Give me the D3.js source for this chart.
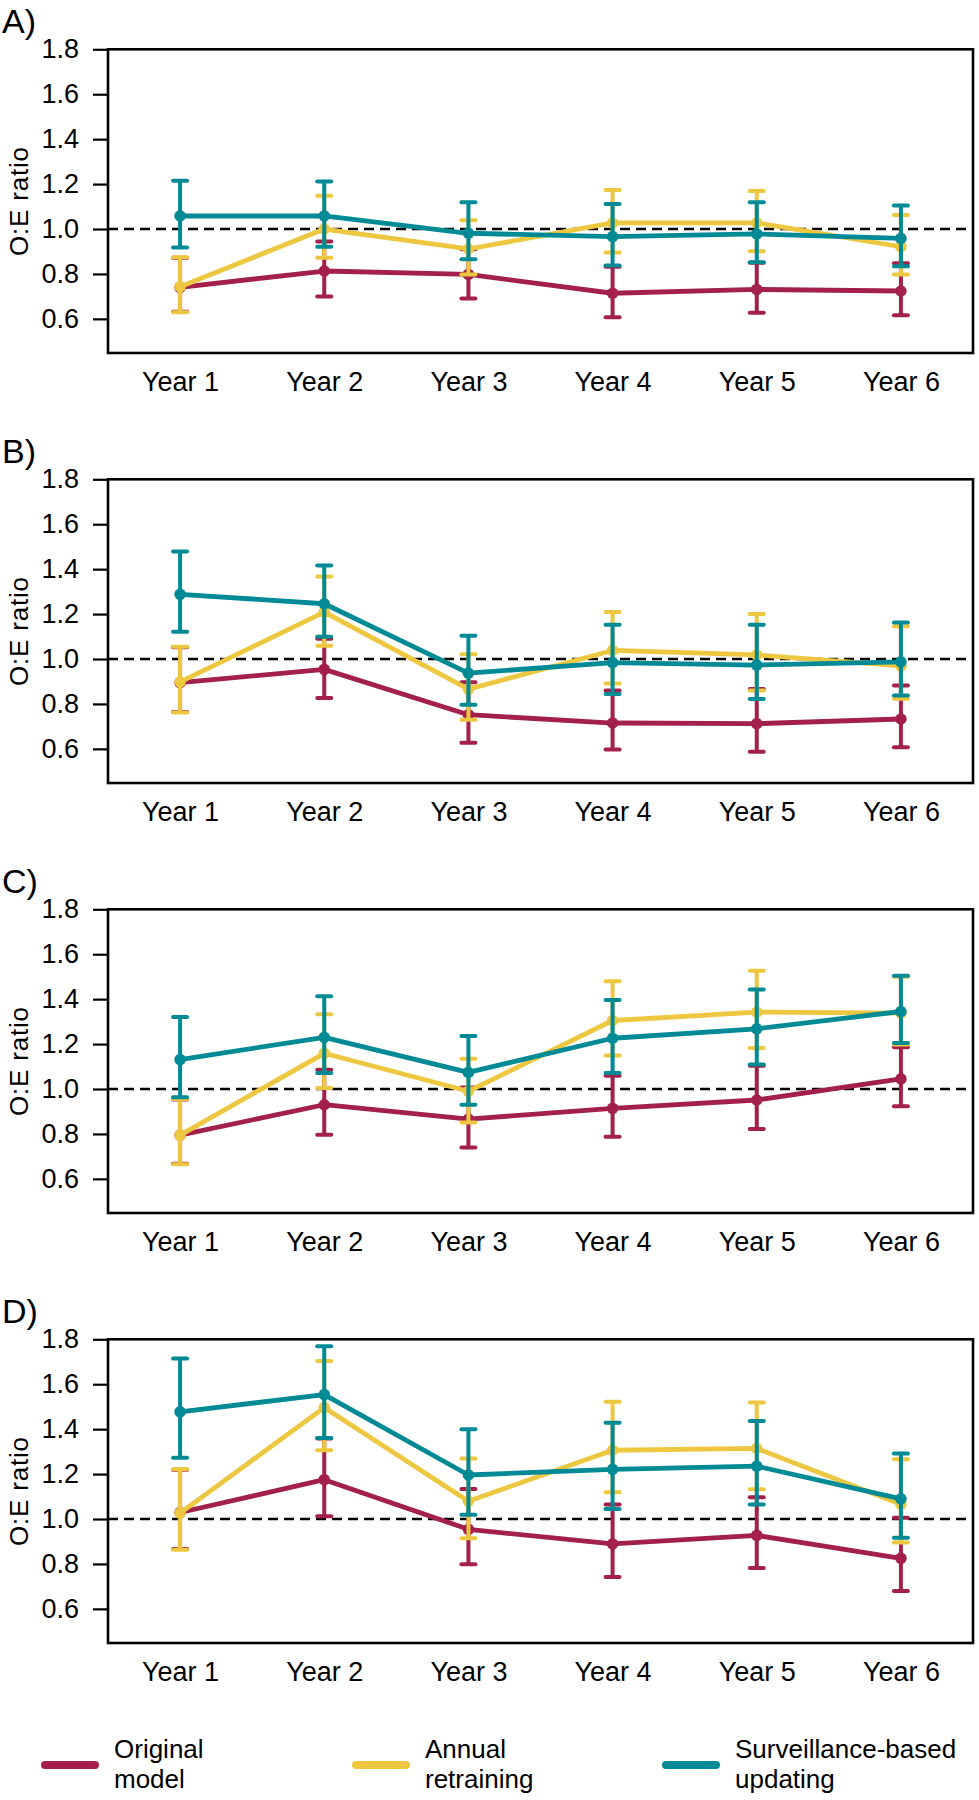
<!DOCTYPE html>
<html>
<head>
<meta charset="utf-8">
<script src="https://cdn.jsdelivr.net/npm/d3@7"></script>
<style>
  html, body { margin: 0; padding: 0; background: #fff; }
  svg { display: block; font-family: "Liberation Sans", Arial, sans-serif; }
</style>
</head>
<body>
<svg id="chart" width="979" height="1800"></svg>
<script>
// ---------- data ----------
const years = ["Year 1", "Year 2", "Year 3", "Year 4", "Year 5", "Year 6"];
const seriesNames = ["Original\nmodel", "Annual\nretraining", "Surveillance-based\nupdating"];
const seriesColors = ["#A3204A", "#EEC740", "#008A96"];
const panelLabels = ["A)", "B)", "C)", "D)"];
const yTicks = [0.6, 0.8, 1.0, 1.2, 1.4, 1.6, 1.8];

// per panel: [original, annual retraining, surveillance-based]
const A_est = [[0.740, 0.813, 0.798, 0.714, 0.731, 0.724],
               [0.743, 1.000, 0.911, 1.027, 1.027, 0.921],
               [1.058, 1.058, 0.981, 0.966, 0.978, 0.958]];
const A_lo  = [[0.632, 0.699, 0.691, 0.607, 0.627, 0.616],
               [0.629, 0.872, 0.798, 0.895, 0.901, 0.798],
               [0.918, 0.921, 0.865, 0.838, 0.852, 0.834]];
const A_hi  = [[0.872, 0.944, 0.910, 0.832, 0.850, 0.847],
               [0.874, 1.148, 1.039, 1.174, 1.169, 1.062],
               [1.215, 1.212, 1.119, 1.111, 1.119, 1.105]];

const B_est = [[0.895, 0.954, 0.752, 0.715, 0.712, 0.733],
               [0.898, 1.209, 0.866, 1.038, 1.018, 0.969],
               [1.288, 1.246, 0.937, 0.984, 0.973, 0.987]];
const B_lo  = [[0.764, 0.826, 0.627, 0.597, 0.587, 0.607],
               [0.762, 1.059, 0.730, 0.891, 0.860, 0.823],
               [1.121, 1.099, 0.796, 0.844, 0.822, 0.838]];
const B_hi  = [[1.052, 1.090, 0.897, 0.860, 0.867, 0.882],
               [1.054, 1.367, 1.021, 1.209, 1.200, 1.146],
               [1.479, 1.416, 1.103, 1.152, 1.152, 1.162]];

const C_est = [[0.795, 0.930, 0.866, 0.914, 0.951, 1.045],
               [0.795, 1.159, 0.990, 1.305, 1.342, 1.338],
               [1.131, 1.230, 1.074, 1.226, 1.268, 1.345]];
const C_lo  = [[0.667, 0.796, 0.740, 0.787, 0.822, 0.923],
               [0.665, 1.004, 0.851, 1.149, 1.183, 1.198],
               [0.963, 1.071, 0.930, 1.071, 1.109, 1.205]];
const C_hi  = [[0.953, 1.086, 1.007, 1.059, 1.104, 1.186],
               [0.955, 1.333, 1.135, 1.480, 1.526, 1.500],
               [1.320, 1.413, 1.236, 1.396, 1.443, 1.504]];

const D_est = [[1.029, 1.175, 0.954, 0.889, 0.927, 0.825],
               [1.026, 1.496, 1.079, 1.306, 1.314, 1.066],
               [1.477, 1.554, 1.196, 1.221, 1.235, 1.090]];
const D_lo  = [[0.866, 1.012, 0.799, 0.742, 0.782, 0.679],
               [0.863, 1.306, 0.914, 1.119, 1.133, 0.895],
               [1.273, 1.361, 1.019, 1.045, 1.065, 0.917]];
const D_hi  = [[1.219, 1.358, 1.134, 1.065, 1.097, 1.006],
               [1.222, 1.703, 1.269, 1.522, 1.519, 1.266],
               [1.714, 1.769, 1.400, 1.428, 1.436, 1.292]];

const panels = [
  {label: panelLabels[0], est: A_est, lo: A_lo, hi: A_hi},
  {label: panelLabels[1], est: B_est, lo: B_lo, hi: B_hi},
  {label: panelLabels[2], est: C_est, lo: C_lo, hi: C_hi},
  {label: panelLabels[3], est: D_est, lo: D_lo, hi: D_hi}
];

// ---------- layout ----------
const svg = d3.select("#chart");
const left = 108, right = 973;
const panelTop0 = 49.3, panelH = 303.7, panelStep = 430;

const x = d3.scaleLinear().domain([0.5, 6.5]).range([left, right]);

panels.forEach((p, pi) => {
  const top = panelTop0 + pi * panelStep;
  const bottom = top + panelH;
  const y = d3.scaleLinear().domain([0.448, 1.8]).range([bottom, top]);
  const g = svg.append("g");

  // panel label
  g.append("text")
    .attr("x", 2).attr("y", 33 + pi * panelStep)
    .attr("font-size", 34).attr("fill", "#000")
    .text(p.label);

  // y-axis title
  g.append("text")
    .attr("transform", `translate(28,${(top + bottom) / 2}) rotate(-90)`)
    .attr("text-anchor", "middle")
    .attr("font-size", 26).attr("fill", "#000")
    .attr("letter-spacing", 0.8)
    .text("O:E ratio");

  // y axis
  const yAxis = g.append("g")
    .attr("transform", `translate(${left},0)`)
    .call(d3.axisLeft(y).tickValues(yTicks).tickFormat(d3.format(".1f"))
      .tickSize(15).tickSizeOuter(0).tickPadding(14));
  yAxis.select(".domain").remove();
  yAxis.selectAll(".tick line").attr("stroke", "#000").attr("stroke-width", 2.2);
  yAxis.selectAll(".tick text").attr("font-size", 27).attr("fill", "#000")
    .attr("font-family", "\"Liberation Sans\", Arial, sans-serif");

  // x axis (labels only)
  const xAxis = g.append("g")
    .attr("transform", `translate(0,${bottom})`)
    .call(d3.axisBottom(x).tickValues([1, 2, 3, 4, 5, 6])
      .tickFormat((d) => years[d - 1]).tickSize(0).tickPadding(19));
  xAxis.select(".domain").remove();
  xAxis.selectAll(".tick text").attr("font-size", 27).attr("fill", "#000")
    .attr("font-family", "\"Liberation Sans\", Arial, sans-serif");

  // box
  g.append("rect")
    .attr("x", left).attr("y", top)
    .attr("width", right - left).attr("height", bottom - top)
    .attr("fill", "none").attr("stroke", "#000").attr("stroke-width", 2.6);

  // reference line at 1.0
  g.append("line")
    .attr("x1", left).attr("x2", right)
    .attr("y1", y(1)).attr("y2", y(1))
    .attr("stroke", "#000").attr("stroke-width", 2.5)
    .attr("stroke-dasharray", "10,6");

  // series
  p.est.forEach((vals, si) => {
    const col = seriesColors[si];
    const sg = g.append("g");
    const pts = vals.map((v, i) => ({x: i + 1, est: v, lo: p.lo[si][i], hi: p.hi[si][i]}));

    // error bars
    sg.selectAll("line.bar").data(pts).enter().append("line")
      .attr("x1", (d) => x(d.x)).attr("x2", (d) => x(d.x))
      .attr("y1", (d) => y(d.lo)).attr("y2", (d) => y(d.hi))
      .attr("stroke", col).attr("stroke-width", 4);
    ["lo", "hi"].forEach((k) => {
      sg.selectAll("line.cap" + k).data(pts).enter().append("line")
        .attr("x1", (d) => x(d.x) - 7).attr("x2", (d) => x(d.x) + 7)
        .attr("y1", (d) => y(d[k])).attr("y2", (d) => y(d[k]))
        .attr("stroke", col).attr("stroke-width", 4)
        .attr("stroke-linecap", "round");
    });

    // line
    sg.append("path")
      .datum(pts)
      .attr("d", d3.line().x((d) => x(d.x)).y((d) => y(d.est)))
      .attr("fill", "none").attr("stroke", col).attr("stroke-width", 4.8)
      .attr("stroke-linejoin", "round");

    // points
    sg.selectAll("circle").data(pts).enter().append("circle")
      .attr("cx", (d) => x(d.x)).attr("cy", (d) => y(d.est))
      .attr("r", 5.8).attr("fill", col);
  });
});

// ---------- legend ----------
const legendX = [45, 356, 666];
const legend = svg.append("g");
seriesNames.forEach((name, i) => {
  legend.append("line")
    .attr("x1", legendX[i]).attr("x2", legendX[i] + 50)
    .attr("y1", 1765).attr("y2", 1765)
    .attr("stroke", seriesColors[i]).attr("stroke-width", 8)
    .attr("stroke-linecap", "round");
  name.split("\n").forEach((ln, j) => {
    legend.append("text")
      .attr("x", legendX[i] + 69).attr("y", 1758 + j * 30)
      .attr("font-size", 26).attr("fill", "#000")
      .text(ln);
  });
});
</script>
</body>
</html>
